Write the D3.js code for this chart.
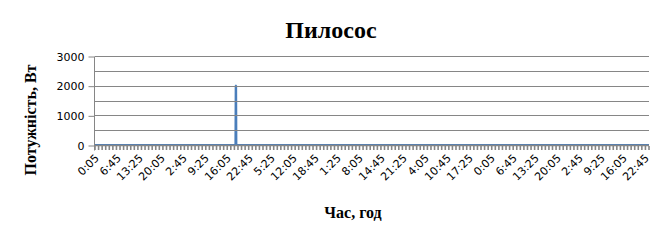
<!DOCTYPE html>
<html>
<head>
<meta charset="utf-8">
<script src="https://cdn.jsdelivr.net/npm/d3@7"></script>
<style>
  body { margin: 0; background: #fff; }
  svg { display: block; }
</style>
</head>
<body>
<div id="chart"></div>
<script>
const width = 663, height = 242;

// readings: one every 5 minutes over a week, starting at 0:05
const startMinute = 5;
const stepMinutes = 5;
const nPoints = 2016;
// the only non-zero readings (index, watts); everything else is 0
const readings = [[512, 2000], [513, 2000]];
const yTicks = [0, 1000, 2000, 3000];
const yGrid = [0, 500, 1000, 1500, 2000, 2500, 3000];
const labelEvery = 80;   // a label every 6:40
const tickEvery = 13;

function timeLabel(i) {
  const m = (startMinute + i * stepMinutes) % 1440;
  return Math.floor(m / 60) + ':' + String(m % 60).padStart(2, '0');
}

const categories = d3.range(nPoints).map(timeLabel);
const values = categories.map(() => 0);
readings.forEach(([i, w]) => { values[i] = w; });

const margin = {left: 95, right: 14, top: 56, bottom: 97};

const svg = d3.select('#chart')
  .append('svg')
  .attr('width', width)
  .attr('height', height);

const x = d3.scaleLinear()
  .domain([0, nPoints - 1])
  .range([margin.left, width - margin.right]);

const y = d3.scaleLinear()
  .domain([0, 3000])
  .range([height - margin.bottom, margin.top]);

// series first, so the axis sits on top of the zero baseline
const line = d3.line()
  .x((d, i) => x(i))
  .y(d => y(d));

svg.append('path')
  .datum(values)
  .attr('d', line)
  .attr('fill', 'none')
  .attr('stroke', '#4A7EBB')
  .attr('stroke-width', 2.2)
  .attr('stroke-linejoin', 'bevel');

// gridlines
svg.append('g')
  .selectAll('line')
  .data(yGrid)
  .enter()
  .append('line')
  .attr('x1', margin.left)
  .attr('x2', width - margin.right)
  .attr('y1', d => Math.round(y(d)) + 0.5)
  .attr('y2', d => Math.round(y(d)) + 0.5)
  .attr('stroke', '#868686')
  .attr('stroke-width', d => d === 0 ? 1.6 : 1);

// y axis
const yAxis = svg.append('g')
  .attr('transform', `translate(${margin.left - 0.5},0.5)`)
  .call(d3.axisLeft(y).tickValues(yTicks).tickSize(6).tickPadding(4)
    .tickFormat(d3.format('d')));
yAxis.select('.domain').attr('stroke', '#868686')
  .attr('d', `M0,${Math.round(y(3000))}V${Math.round(y(0)) + 5}`);
yAxis.selectAll('.tick line').attr('stroke', '#868686');
yAxis.selectAll('.tick text')
  .style('font-family', 'DejaVu Sans')
  .style('font-size', '11px')
  .attr('fill', '#000');

// x tick marks
const xTickIdx = d3.range(0, nPoints, tickEvery);
svg.append('g')
  .selectAll('line')
  .data(xTickIdx)
  .enter()
  .append('line')
  .attr('x1', d => x(d))
  .attr('x2', d => x(d))
  .attr('y1', y(0) + 1)
  .attr('y2', y(0) + 5)
  .attr('stroke', '#868686')
  .attr('stroke-width', 1.6);

// x labels
const xLabelIdx = d3.range(0, nPoints, labelEvery);
svg.append('g')
  .selectAll('text')
  .data(xLabelIdx)
  .enter()
  .append('text')
  .attr('transform', d => `translate(${x(d) + 2},${y(0) + 11}) rotate(-45)`)
  .attr('text-anchor', 'end')
  .attr('dy', '0.35em')
  .style('font-family', 'DejaVu Sans')
  .style('font-size', '11px')
  .text(d => categories[d]);

// titles
svg.append('text')
  .attr('x', 331)
  .attr('y', 38)
  .attr('text-anchor', 'middle')
  .style('font-family', 'Liberation Serif')
  .style('font-weight', 'bold')
  .style('font-size', '24px')
  .text('Пилосос');

svg.append('text')
  .attr('x', 353)
  .attr('y', 218)
  .attr('text-anchor', 'middle')
  .style('font-family', 'Liberation Serif')
  .style('font-weight', 'bold')
  .style('font-size', '16px')
  .text('Час, год');

svg.append('text')
  .attr('transform', 'translate(36,120) rotate(-90)')
  .attr('text-anchor', 'middle')
  .style('font-family', 'Liberation Serif')
  .style('font-weight', 'bold')
  .style('font-size', '16px')
  .text('Потужність, Вт');
</script>
</body>
</html>
